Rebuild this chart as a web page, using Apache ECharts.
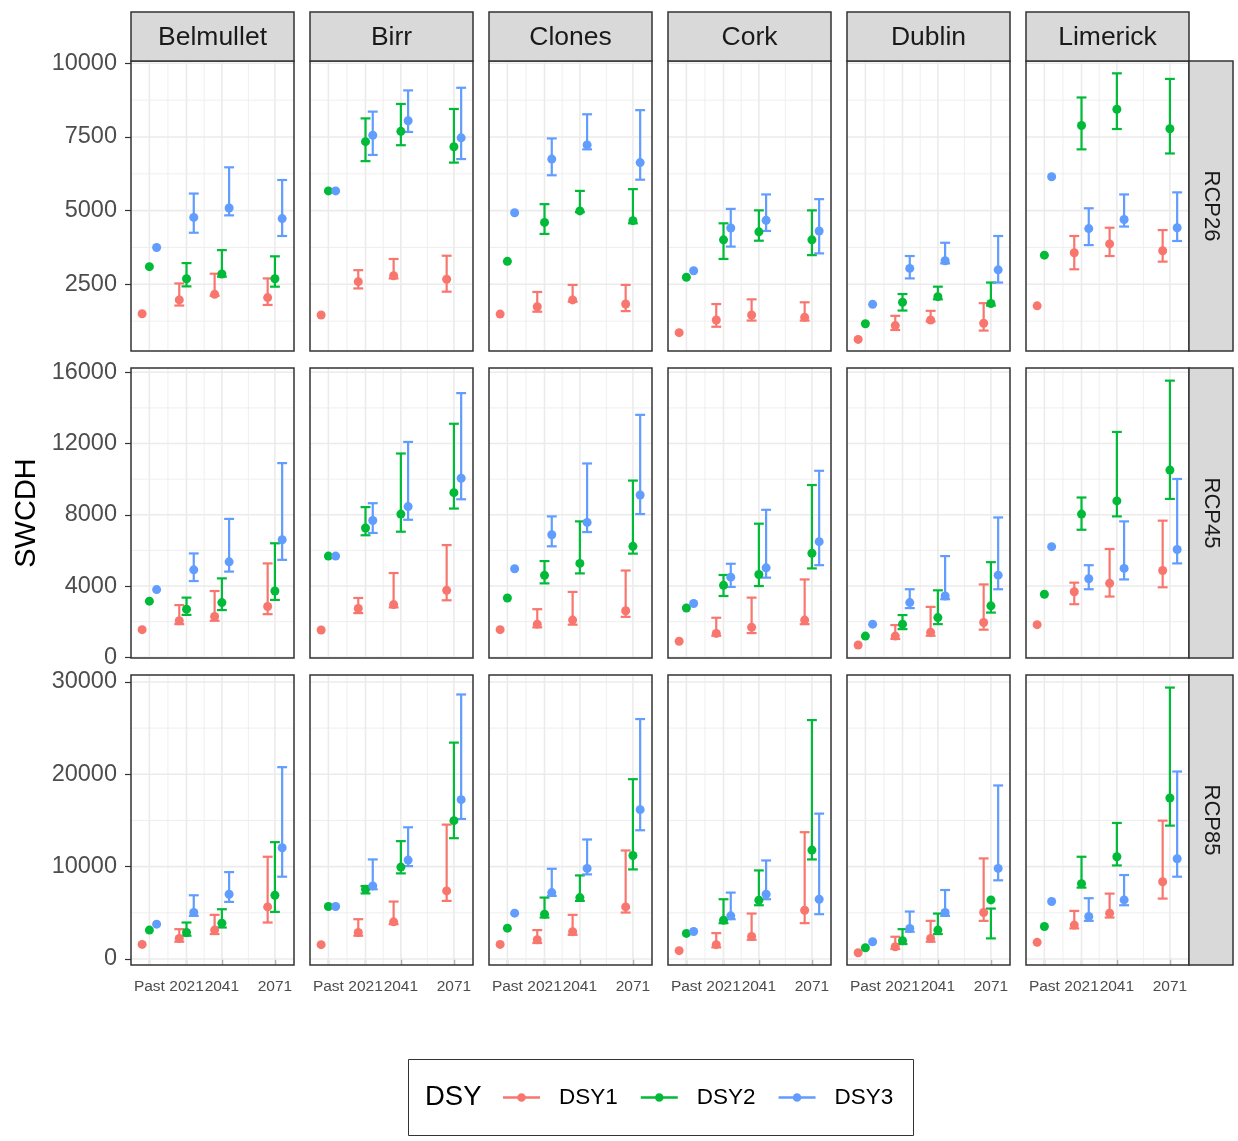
<!DOCTYPE html>
<html><head><meta charset="utf-8">
<script src="https://cdn.jsdelivr.net/npm/echarts@6/dist/echarts.min.js"></script>
<style>html,body{margin:0;padding:0;background:#fff}#c{width:1238px;height:1141px}</style>
</head><body><div id="c"></div>
<script>
// ---------- data ----------
const stations = ['Belmullet', 'Birr', 'Clones', 'Cork', 'Dublin', 'Limerick'];
const scenarios = ['RCP26', 'RCP45', 'RCP85'];
const periods = ['Past', '2021', '2041', '2071'];
const periodX = [2000, 2021, 2041, 2071];
const dsyNames = ['DSY1', 'DSY2', 'DSY3'];

// central values: per station [Past, 2021, 2041, 2071]
// lo / hi: per station [2021, 2041, 2071] (Past has no range)
const RCP26_DSY1_mid = [[1500,1970,2160,2050],[1460,2590,2790,2670],[1490,1740,1970,1830],[860,1290,1460,1380],[630,1100,1290,1180],[1770,3570,3870,3640]];
const RCP26_DSY1_lo  = [[1780,2110,1800],[2360,2700,2250],[1570,1910,1590],[1060,1270,1270],[950,1240,930],[3010,3460,3270]];
const RCP26_DSY1_hi  = [[2530,2860,2700],[2980,3360,3470],[2240,2480,2480],[1830,1990,1890],[1430,1600,1860],[4140,4420,4340]];
const RCP26_DSY2_mid = [[3100,2690,2850,2690],[5670,7340,7690,7170],[3280,4600,4990,4660],[2740,4010,4280,4010],[1160,1890,2080,1850],[3490,7890,8440,7780]];
const RCP26_DSY2_lo  = [[2430,2760,2420],[6680,7220,6630],[4210,4950,4570],[3360,3980,3490],[1610,1990,1780],[7080,7770,6940]];
const RCP26_DSY2_hi  = [[3220,3660,3450],[8130,8620,8450],[5220,5670,5730],[4570,5010,5010],[2170,2420,2560],[8840,9660,9470]];
const RCP26_DSY3_mid = [[3750,4770,5090,4730],[5670,7560,8050,7470],[4930,6750,7230,6630],[2960,4410,4670,4310],[1820,3040,3300,2990],[6150,4390,4700,4420]];
const RCP26_DSY3_lo  = [[4250,4840,4140],[6890,7670,6750],[6200,7080,6050],[3780,4310,3550],[2700,3210,2560],[3830,4460,3970]];
const RCP26_DSY3_hi  = [[5580,6470,6040],[8360,9080,9170],[7450,8270,8410],[5060,5550,5390],[3460,3910,4140],[5080,5550,5620]];

const RCP45_DSY1_mid = [[1550,2050,2290,2850],[1530,2740,2960,3760],[1550,1860,2090,2610],[900,1340,1680,2090],[690,1190,1400,1950],[1830,3680,4150,4870]];
const RCP45_DSY1_lo  = [[1860,2050,2420],[2480,2800,3200],[1680,1830,2270],[1210,1360,1860],[1030,1210,1550],[2980,3410,3930]];
const RCP45_DSY1_hi  = [[2930,3720,5270],[3330,4730,6300],[2700,3670,4870],[2220,3350,4370],[1810,2830,4090],[4190,6080,7670]];
const RCP45_DSY2_mid = [[3150,2700,3070,3720],[5680,7260,8040,9240],[3330,4600,5270,6230],[2770,4040,4650,5840],[1190,1860,2230,2890],[3540,8040,8780,10510]];
const RCP45_DSY2_lo  = [[2380,2650,3220],[6850,7050,8350],[4150,4710,5820],[3440,4000,4990],[1580,1860,2510],[7160,7910,8890]];
const RCP45_DSY2_hi  = [[3350,4430,6400],[8430,11440,13110],[5400,7630,9920],[4620,7500,9670],[2370,3760,5340],[8970,12650,15530]];
const RCP45_DSY3_mid = [[3800,4910,5360,6600],[5680,7680,8460,10050],[4970,6880,7570,9110],[3020,4500,5020,6490],[1860,3070,3440,4610],[6210,4410,4990,6050]];
const RCP45_DSY3_lo  = [[4280,4810,5470],[6980,7720,8870],[6230,7030,8040],[3950,4470,5170],[2760,3260,3820],[3820,4370,5270]];
const RCP45_DSY3_hi  = [[5830,7770,10900],[8650,12090,14830],[7910,10880,13610],[5250,8280,10470],[3820,5680,7850],[5170,7630,10010]];

const RCP85_DSY1_mid = [[1580,2230,3130,5640],[1550,2870,4020,7370],[1580,2080,2950,5640],[900,1550,2440,5280],[680,1330,2230,5030],[1800,3670,4960,8370]];
const RCP85_DSY1_lo  = [[1870,2700,3950],[2520,3770,6290],[1730,2620,5030],[1260,2080,3880],[1080,1870,4130],[3310,4490,6540]];
const RCP85_DSY1_hi  = [[3230,4780,11070],[4310,6220,14550],[3130,4780,11750],[2800,4920,13730],[2410,4130,10890],[5210,7080,14980]];
const RCP85_DSY2_mid = [[3130,2870,3880,6900],[5680,7550,9950,14980],[3340,4850,6650,11210],[2770,4200,6360,11790],[1220,1980,3130,6400],[3520,8160,11070,17430]];
const RCP85_DSY2_lo  = [[2520,3410,5100],[7100,9270,13080],[4490,6290,9700],[3880,5820,10780],[1620,2700,2230],[7730,10130,14440]];
const RCP85_DSY2_hi  = [[3950,5390,12650],[7900,12760,23430],[6650,9050,19470],[6470,9590,25870],[3230,4920,5460],[11070,14730,29390]];
const RCP85_DSY3_mid = [[3770,5030,7010,12040],[5680,7910,10710,17250],[4960,7190,9810,16170],[2980,4670,7010,6470],[1870,3310,5030,9810],[6220,4600,6400,10850]];
const RCP85_DSY3_lo  = [[4670,6180,8910],[7550,10060,15160],[6830,9160,13940],[4310,6470,4850],[2950,4670,8520],[4130,5820,8910]];
const RCP85_DSY3_hi  = [[6900,9410,20770],[10780,14260,28640],[9770,12940,25980],[7190,10670,15740],[5140,7470,18790],[6580,9090,20300]];

// axis ticks per facet row
const yTicks = [[2500,5000,7500,10000],[0,4000,8000,12000,16000],[0,10000,20000,30000]];
const yMinorTicks = [[1250,3750,6250,8750],[2000,6000,10000,14000],[5000,15000,25000]];
const xMinorTicks = [2010.5, 2031, 2056];

// ---------- assembly ----------
const MID = {RCP26:[RCP26_DSY1_mid,RCP26_DSY2_mid,RCP26_DSY3_mid], RCP45:[RCP45_DSY1_mid,RCP45_DSY2_mid,RCP45_DSY3_mid], RCP85:[RCP85_DSY1_mid,RCP85_DSY2_mid,RCP85_DSY3_mid]};
const LO  = {RCP26:[RCP26_DSY1_lo,RCP26_DSY2_lo,RCP26_DSY3_lo], RCP45:[RCP45_DSY1_lo,RCP45_DSY2_lo,RCP45_DSY3_lo], RCP85:[RCP85_DSY1_lo,RCP85_DSY2_lo,RCP85_DSY3_lo]};
const HI  = {RCP26:[RCP26_DSY1_hi,RCP26_DSY2_hi,RCP26_DSY3_hi], RCP45:[RCP45_DSY1_hi,RCP45_DSY2_hi,RCP45_DSY3_hi], RCP85:[RCP85_DSY1_hi,RCP85_DSY2_hi,RCP85_DSY3_hi]};

const colors = ['#F8766D', '#00BA38', '#619CFF'];
const dodge = [-4.1, 0, 4.1];
const capHalf = 2.8;
const FONT = '"Liberation Sans", Arial, Helvetica, sans-serif';

// layout
const L0 = 131, CSTEP = 179, PW = 163;
const T0 = 61, RSTEP = 307, PH = 290;
const STRIP_TOP = 12;
const xRange = [1989.6, 2081.8];
const yRange = [[237, 10078], [-40, 16240], [-650, 30750]];

const grids = [], xAxes = [], yAxes = [], series = [], graphics = [];

function renderGridLines(params, api) {
  const cs = params.coordSys;
  const kind = api.value(2);
  const p = api.coord([api.value(0), api.value(1)]);
  const major = (kind === 0 || kind === 2);
  const style = {stroke: '#EBEBEB', lineWidth: major ? 1.6 : 0.8, fill: null};
  if (kind < 2) return {type: 'line', shape: {x1: p[0], y1: cs.y, x2: p[0], y2: cs.y + cs.height}, style};
  return {type: 'line', shape: {x1: cs.x, y1: p[1], x2: cs.x + cs.width, y2: p[1]}, style};
}

function makeErrRenderer(color) {
  return function (params, api) {
    const x = api.value(0), lo = api.value(1), hi = api.value(2);
    const pt = api.coord([x, hi]), pb = api.coord([x, lo]);
    const pr = api.coord([x + capHalf, hi]);
    const hw = pr[0] - pt[0];
    const style = {stroke: color, lineWidth: 2.2, fill: null};
    return {type: 'group', children: [
      {type: 'line', shape: {x1: pt[0], y1: pt[1], x2: pb[0], y2: pb[1]}, style},
      {type: 'line', shape: {x1: pt[0] - hw, y1: pt[1], x2: pt[0] + hw, y2: pt[1]}, style},
      {type: 'line', shape: {x1: pb[0] - hw, y1: pb[1], x2: pb[0] + hw, y2: pb[1]}, style}
    ]};
  };
}

scenarios.forEach((sc, r) => {
  stations.forEach((st, c) => {
    const idx = r * stations.length + c;
    const left = L0 + c * CSTEP, top = T0 + r * RSTEP;
    grids.push({left: left, top: top, width: PW, height: PH, show: false});
    xAxes.push({
      type: 'value', gridIndex: idx, min: xRange[0], max: xRange[1],
      axisLine: {show: false}, splitLine: {show: false},
      axisTick: {show: r === scenarios.length - 1, customValues: periodX, length: 6, lineStyle: {color: '#333', width: 1.2}},
      axisLabel: {show: r === scenarios.length - 1, customValues: periodX, margin: 14,
        formatter: v => periods[periodX.indexOf(v)] || '', fontSize: 15.5, color: '#4D4D4D', fontFamily: FONT}
    });
    yAxes.push({
      type: 'value', gridIndex: idx, min: yRange[r][0], max: yRange[r][1],
      axisLine: {show: false}, splitLine: {show: false},
      axisTick: {show: c === 0, customValues: yTicks[r], length: 6, lineStyle: {color: '#333', width: 1.2}},
      axisLabel: {show: c === 0, customValues: yTicks[r], margin: 14, formatter: v => String(v),
        fontSize: 23.5, color: '#4D4D4D', fontFamily: FONT}
    });

    // panel grid lines
    const ymid = (yRange[r][0] + yRange[r][1]) / 2, xmid = (xRange[0] + xRange[1]) / 2;
    const gl = [];
    yMinorTicks[r].forEach(v => gl.push([xmid, v, 3]));
    xMinorTicks.forEach(v => gl.push([v, ymid, 1]));
    yTicks[r].forEach(v => gl.push([xmid, v, 2]));
    periodX.forEach(v => gl.push([v, ymid, 0]));
    series.push({type: 'custom', xAxisIndex: idx, yAxisIndex: idx, silent: true, z: 1,
      renderItem: renderGridLines, data: gl, encode: {x: 0, y: 1}});

    dsyNames.forEach((dn, d) => {
      const mids = MID[sc][d][c], los = LO[sc][d][c], his = HI[sc][d][c];
      const errData = [], ptData = [];
      periodX.forEach((px, p) => {
        ptData.push([px + dodge[d], mids[p]]);
        if (p > 0) errData.push([px + dodge[d], los[p - 1], his[p - 1]]);
      });
      series.push({name: dn, type: 'custom', xAxisIndex: idx, yAxisIndex: idx, z: 3, silent: true,
        itemStyle: {color: colors[d]}, renderItem: makeErrRenderer(colors[d]),
        data: errData, encode: {x: 0, y: [1, 2]}});
      series.push({name: dn, type: 'scatter', xAxisIndex: idx, yAxisIndex: idx, z: 4,
        symbol: 'circle', symbolSize: 9, itemStyle: {color: colors[d], opacity: 1}, data: ptData});
    });

    // panel border
    graphics.push({type: 'rect', z: 100, silent: true, shape: {x: left, y: top, width: PW, height: PH},
      style: {fill: null, stroke: '#333333', lineWidth: 1.5}});
    // column strips
    if (r === 0) {
      graphics.push({type: 'rect', z: 100, silent: true, shape: {x: left, y: STRIP_TOP, width: PW, height: T0 - STRIP_TOP},
        style: {fill: '#D9D9D9', stroke: '#333333', lineWidth: 1.5}});
      graphics.push({type: 'text', z: 101, silent: true, x: left + PW / 2, y: (STRIP_TOP + T0) / 2 + 1.5,
        style: {text: st, fill: '#1A1A1A', font: '26.5px ' + FONT, align: 'center', verticalAlign: 'middle'}});
    }
    // row strips
    if (c === stations.length - 1) {
      const sx = left + PW;
      graphics.push({type: 'rect', z: 100, silent: true, shape: {x: sx, y: top, width: 44, height: PH},
        style: {fill: '#D9D9D9', stroke: '#333333', lineWidth: 1.5}});
      graphics.push({type: 'text', z: 101, silent: true, x: sx + 22, y: top + PH / 2, rotation: -Math.PI / 2,
        style: {text: sc, fill: '#1A1A1A', font: '22px ' + FONT, align: 'center', verticalAlign: 'middle'}});
    }
  });
});

// y-axis title
graphics.push({type: 'text', silent: true, x: 27, y: (T0 + T0 + 2 * RSTEP + PH) / 2, rotation: Math.PI / 2,
  style: {text: 'SWCDH', fill: '#000', font: '29px ' + FONT, align: 'center', verticalAlign: 'middle'}});
// legend box + title
graphics.push({type: 'rect', silent: true, z: 0, shape: {x: 408.5, y: 1059.5, width: 505, height: 76},
  style: {fill: '#fff', stroke: '#333333', lineWidth: 1}});
graphics.push({type: 'text', silent: true, z: 10, x: 425, y: 1097,
  style: {text: 'DSY', fill: '#000', font: '27.5px ' + FONT, align: 'left', verticalAlign: 'middle'}});

const option = {
  animation: false,
  backgroundColor: '#ffffff',
  textStyle: {fontFamily: FONT},
  grid: grids, xAxis: xAxes, yAxis: yAxes, series: series,
  legend: {
    data: dsyNames, left: 503, top: 1086, orient: 'horizontal', padding: 0,
    icon: 'path://M0,3.1h37v2.4h-37z M14.2,4.3a4.3,4.3 0 1,1 8.6,0a4.3,4.3 0 1,1 -8.6,0z',
    itemWidth: 37, itemHeight: 8.6, itemGap: 23, selectedMode: false,
    textStyle: {fontSize: 22.5, color: '#000', fontFamily: FONT, padding: [0, 0, 0, 14]}
  },
  graphic: {elements: graphics}
};

const chart = echarts.init(document.getElementById('c'), null, {renderer: 'canvas'});
chart.setOption(option);
</script></body></html>
